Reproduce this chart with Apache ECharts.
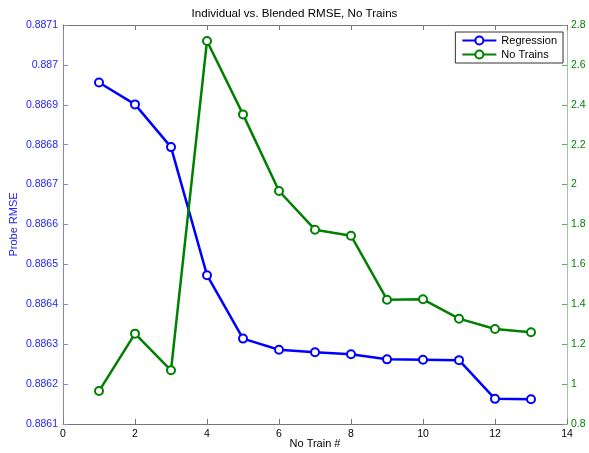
<!DOCTYPE html>
<html><head><meta charset="utf-8">
<script src="https://cdn.jsdelivr.net/npm/echarts@6/dist/echarts.min.js"></script>
<style>html,body{margin:0;padding:0;background:#fff}#c{width:589px;height:453px}</style>
</head><body><div id="c"></div>
<script>
var trainNums = [1,2,3,4,5,6,7,8,9,10,11,12,13];
var regression = [0.886956,0.886901,0.886794,0.886473,0.886314,0.886286,0.886280,0.886275,0.886262,0.886261,0.886260,0.886163,0.886162];
var noTrains = [0.965,1.253,1.069,2.72,2.352,1.968,1.774,1.744,1.423,1.425,1.328,1.276,1.26];
var titleText = 'Individual vs. Blended RMSE, No Trains';

function pairs(ys){ return trainNums.map(function(x,i){ return [x, ys[i]]; }); }
function fmt(d){ return function(v){ return String(parseFloat(v.toFixed(d))); }; }

var font = 'Liberation Sans, Arial, sans-serif';
var tickFs = 10.5;
var chart = echarts.init(document.getElementById('c'), null, {renderer:'canvas'});
chart.setOption({
  animation:false,
  backgroundColor:'#fff',
  textStyle:{fontFamily:font},
  title:{text:titleText,left:'center',top:6,padding:[2,5],textStyle:{fontSize:11.6,fontWeight:'normal',color:'#000',fontFamily:font}},
  grid:{left:63,right:22,top:25,bottom:29,containLabel:false,outerBoundsMode:'none'},
  legend:{
    right:26, top:32, orient:'vertical',
    borderColor:'#333', borderWidth:1, backgroundColor:'#fff',
    padding:[3,6,3,6], itemGap:3, itemWidth:34, itemHeight:10,
    textStyle:{fontSize:11,color:'#000',fontFamily:font},
    data:['Regression','No Trains']
  },
  xAxis:[{
    type:'value', min:0, max:14, interval:2, position:'bottom',
    name:'No Train #', nameLocation:'middle', nameGap:14, nameMoveOverlap:false,
    nameTextStyle:{fontSize:11,color:'#000',fontFamily:font,verticalAlign:'top'},
    axisLine:{onZero:false,lineStyle:{color:'#777',width:1}},
    axisTick:{inside:true,length:5,lineStyle:{color:'#777'}},
    axisLabel:{color:'#000',fontSize:tickFs,margin:5,fontFamily:font},
    splitLine:{show:false}
  },{
    type:'value', min:0, max:14, interval:2, position:'top',
    axisLine:{onZero:false,lineStyle:{color:'#777',width:1}},
    axisTick:{inside:true,length:5,lineStyle:{color:'#777'}},
    axisLabel:{show:false}, splitLine:{show:false}
  }],
  yAxis:[{
    type:'value', min:0.8861, max:0.8871, interval:0.0001, position:'left',
    name:'Probe RMSE', nameLocation:'middle', nameGap:44, nameMoveOverlap:false,
    nameTextStyle:{fontSize:11,color:'#2222ff',fontFamily:font},
    axisLine:{show:true,onZero:false,lineStyle:{color:'#8080ff',width:1}},
    axisTick:{show:true,inside:true,length:5,lineStyle:{color:'#8080ff'}},
    axisLabel:{color:'#2222ff',fontSize:tickFs,margin:5,formatter:fmt(4),fontFamily:font},
    splitLine:{show:false}
  },{
    type:'value', min:0.8, max:2.8, interval:0.2, position:'right',
    axisLine:{show:true,onZero:false,lineStyle:{color:'#99cc99',width:1}},
    axisTick:{show:true,inside:true,length:5,lineStyle:{color:'#66aa66'}},
    axisLabel:{color:'#008000',fontSize:tickFs,margin:4,formatter:fmt(1),fontFamily:font},
    splitLine:{show:false}
  }],
  series:[{
    name:'Regression', type:'line', xAxisIndex:0, yAxisIndex:0,
    data:pairs(regression), symbol:'emptyCircle', symbolSize:8,
    lineStyle:{color:'#0000ff',width:2.5}, itemStyle:{color:'#0000ff',borderWidth:2}
  },{
    name:'No Trains', type:'line', xAxisIndex:0, yAxisIndex:1,
    data:pairs(noTrains), symbol:'emptyCircle', symbolSize:8,
    lineStyle:{color:'#008000',width:2.5}, itemStyle:{color:'#008000',borderWidth:2}
  }]
});
</script></body></html>
